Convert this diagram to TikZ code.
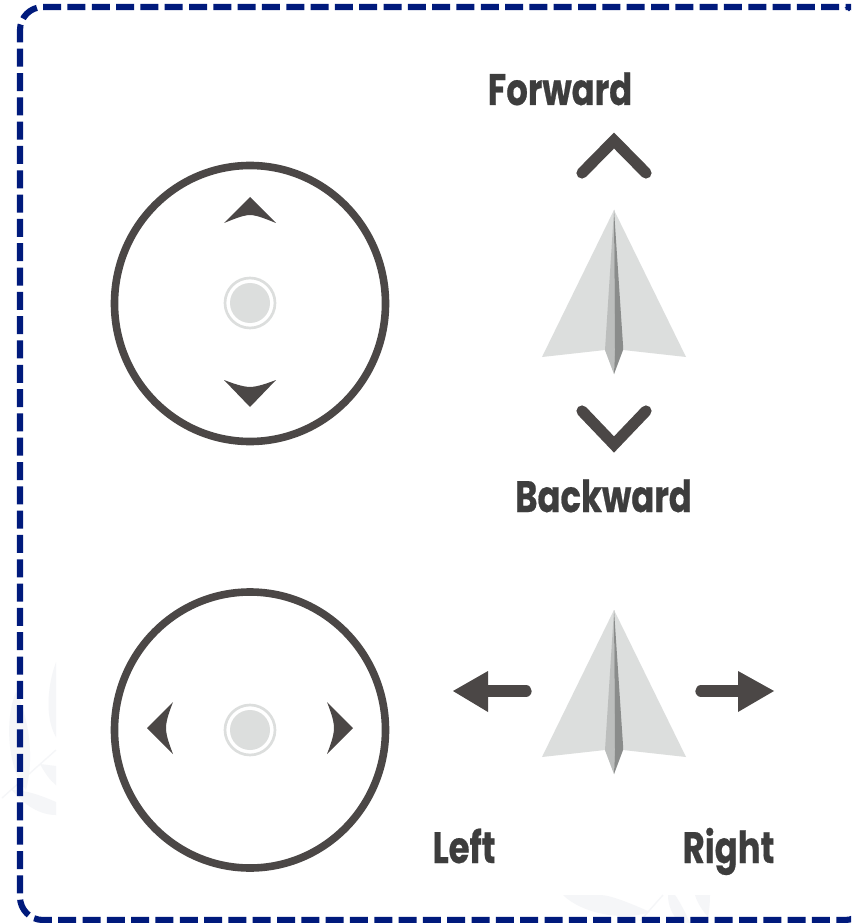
\documentclass[tikz,border=0pt]{standalone}
\usepackage{fontspec}
\setmainfont{Poppins}[BoldFont={Poppins Bold},BoldFeatures={FakeStretch=0.77,FakeBold=0.5}]
\definecolor{navy}{HTML}{001A7C}
\definecolor{ink}{HTML}{4B4746}
\definecolor{labelink}{HTML}{3D3D3D}
\definecolor{paper}{HTML}{DCDEDD}
\definecolor{foldlight}{HTML}{BCBEBD}
\definecolor{folddark}{HTML}{8A8C8B}
\definecolor{leaf}{HTML}{F5F6F8}
\tikzset{
  x=0.75pt,y=-0.75pt,
  frame/.style={draw=navy,line width=4.6pt,dash pattern=on 13.5pt off 4.735pt,rounded corners=17.25pt},
  dial/.style={draw=ink,line width=5.7pt},
  glyph/.style={fill=ink,draw=none},
  chev/.style={draw=ink,line width=8.4pt,line cap=round,miter limit=10},
  shaft/.style={draw=ink,line width=8.5pt,line cap=round},
  lbl/.style={font=\bfseries\fontsize{33}{33}\selectfont,text=labelink,anchor=base,inner sep=0pt},
  leafshape/.style={fill=leaf,draw=none},
  plane/.pic={
    \fill[paper] (614,210) -- (686,357) -- (623,350) -- (614,374) -- (605,350) -- (542,357) -- cycle;
    \fill[foldlight] (614,210) -- (615,350) -- (614,374) -- (605,350) -- cycle;
    \fill[folddark] (614,210) -- (623,345) -- (623,350) -- (614,374) -- (615,350) -- cycle;
  },
  knob/.pic={
    \fill[paper] (250,0) circle[radius=20];
    \draw[paper,line width=2pt] (250,0) circle[radius=25];
  }
}
\begin{document}
\begin{tikzpicture}
\useasboundingbox (0,0) rectangle (851,923);
\fill[white] (0,0) rectangle (851,923);
\clip (0,0) rectangle (851,923);

% faint watermark leaves
\fill[leafshape] (56,662) .. controls (46,690) and (46,720) .. (56,737) -- cycle;
\fill[leafshape] (16,692) .. controls (4,720) and (8,770) .. (26,790) .. controls (34,760) and (30,720) .. (16,692) -- cycle;
\fill[leafshape] (40,764) .. controls (46,775) and (50,780) .. (56,785) -- (56,766) -- cycle;
\fill[leafshape] (12,790) .. controls (24,805) and (40,815) .. (56,815) -- (56,802) .. controls (40,795) and (25,790) .. (12,790) -- cycle;
\draw[leaf,line width=1pt] (2,798) -- (56,750);
\fill[leafshape] (563,895) .. controls (580,912) and (620,922) .. (650,912) .. controls (630,903) and (610,895) .. (600,895) -- cycle;
\draw[leaf,line width=1pt] (640,921) -- (663,895);
\fill[leafshape] (668,895) .. controls (668,905) and (672,915) .. (680,923) -- (690,923) .. controls (685,912) and (680,902) .. (675,895) -- cycle;
\fill[leafshape] (695,895) -- (710,895) .. controls (710,903) and (709,911) .. (708,917) .. controls (702,910) and (697,902) .. (695,895) -- cycle;

% dashed frame
\draw[frame] (851,9) .. controls (849,7.5) and (847,7) .. (845,7) -- (20,7) -- (20,920) -- (868,920) -- (868,8);

% dials
\draw[dial] (250,303.5) circle[x radius=135.5,y radius=138];
\draw[dial] (250,730) circle[x radius=135.5,y radius=138];
\pic at (0,303) {knob};
\pic at (0,730) {knob};
\fill[glyph] (250,197) -- (276,223) .. controls (268,220) and (258,215.2) .. (250,215) .. controls (242,215.2) and (232,220) .. (224,223) -- cycle;
\fill[glyph] (250,407) -- (276,380) .. controls (268,383) and (258,386.8) .. (250,387) .. controls (242,386.8) and (232,383) .. (224,380) -- cycle;
\fill[glyph] (147,728) -- (173,702) .. controls (170,710) and (166,720) .. (166,728) .. controls (166,736) and (170,746) .. (173,754) -- cycle;
\fill[glyph] (353,728) -- (327,702) .. controls (330,710) and (334,720) .. (334,728) .. controls (334,736) and (330,746) .. (327,754) -- cycle;

% planes
\pic at (0,0) {plane};
\pic at (0,400) {plane};

% chevrons
\draw[chev] (582,173) -- (614,140.5) -- (646,173);
\draw[chev] (582,411) -- (614,444.5) -- (646,411);

% side arrows
\draw[shaft] (526,691) -- (485,691);
\fill[glyph] (453,691) -- (488,671) -- (488,712) -- cycle;
\draw[shaft] (701,691) -- (741,691);
\fill[glyph] (774,691) -- (738,671) -- (738,712) -- cycle;

% labels
\node[lbl] (forward) at (560,105) {Forward};
\node[lbl] (backward) at (603.5,512) {Backward};
\node[lbl] (left) at (464,863) {Left};
\node[lbl] (right) at (728.5,863) {Right};
\end{tikzpicture}
\end{document}
